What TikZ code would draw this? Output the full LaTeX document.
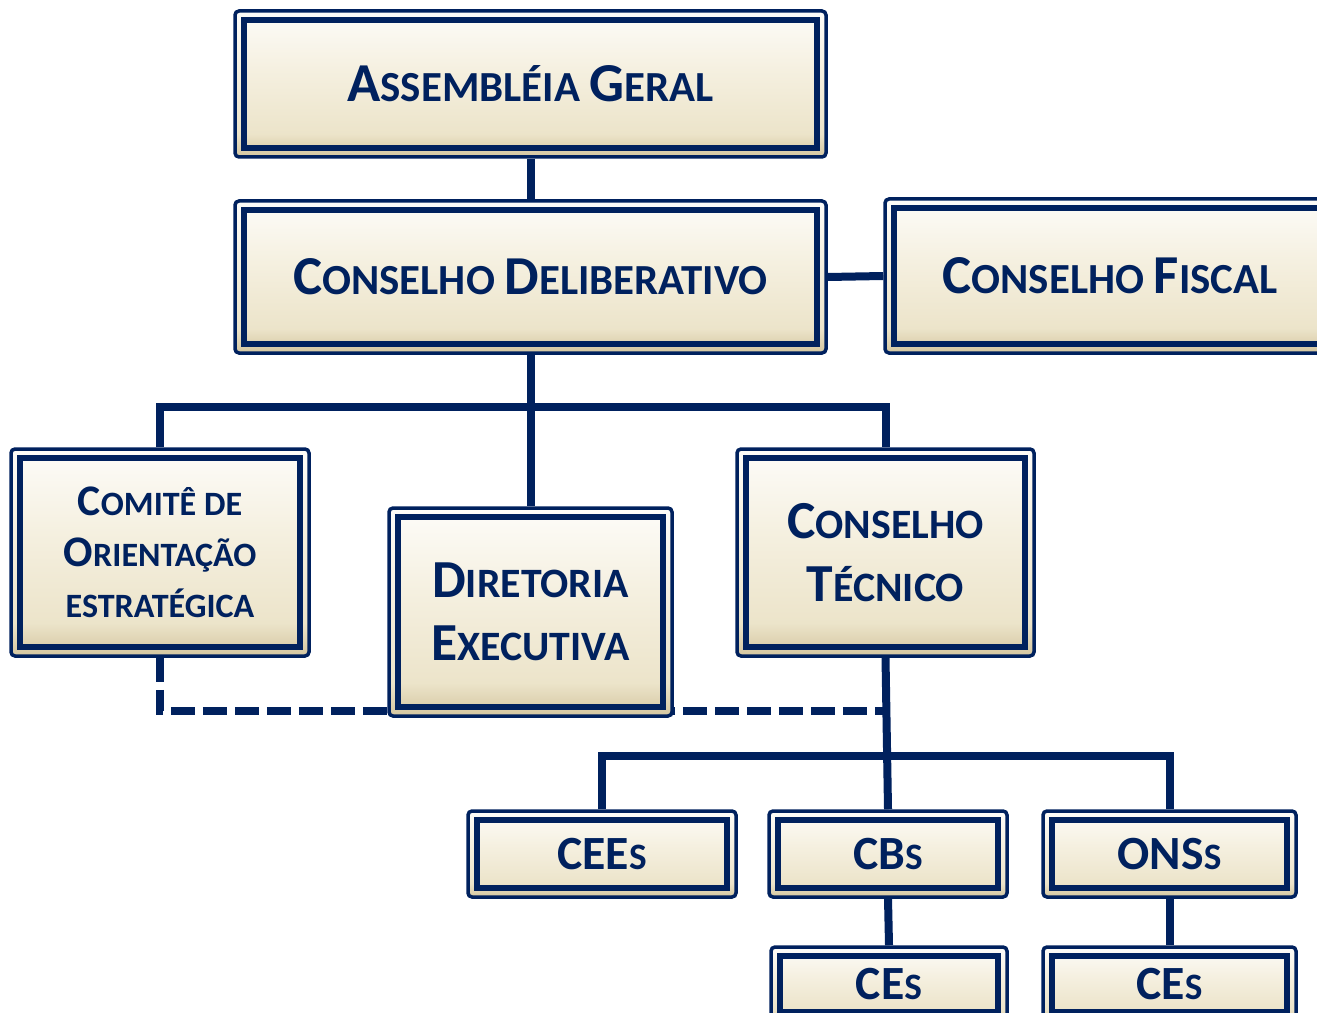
\documentclass[tikz,border=0pt]{standalone}
\usepackage{fontspec}
\setmainfont{Carlito}
\usepackage{graphicx}
\usepackage{tikz}
\usetikzlibrary{positioning,backgrounds}

\definecolor{navy}{RGB}{0,33,94}
\definecolor{boxtop}{RGB}{253,252,249}
\definecolor{boxlight}{RGB}{245,240,224}
\definecolor{boxmid}{RGB}{236,228,202}
\definecolor{boxbot}{RGB}{212,198,160}
\pgfdeclareverticalshading{boxshade}{100bp}{color(0bp)=(boxbot); color(25bp)=(boxbot);
  color(33bp)=(boxmid); color(55bp)=(boxlight); color(75bp)=(boxtop); color(100bp)=(boxtop)}
\newcommand\pxu{0.02cm}
% small caps by hand: capitals drawn larger than the rest
\newcommand\capl[1]{\scalebox{1.28}{#1}}

\begin{document}
\begin{tikzpicture}[x=0.02cm,y=-0.02cm,
  org box/.style={rectangle,rounded corners=4*\pxu,draw=navy,line width=3.5*\pxu,
    shading=boxshade,text=navy,align=center,inner sep=0pt,
    path picture={\draw[navy,line width=5.5*\pxu,sharp corners]
      ([shift={(9*\pxu,9*\pxu)}]path picture bounding box.south west) rectangle
      ([shift={(-9*\pxu,-9*\pxu)}]path picture bounding box.north east);}},
  big box/.style={org box,font=\bfseries\fontsize{24.4}{30}\selectfont},
  mid box/.style={org box,font=\bfseries\fontsize{23.8}{36}\selectfont},
  small box/.style={org box,minimum height=86*\pxu,font=\bfseries\fontsize{21.2}{26}\selectfont},
  link/.style={draw=navy,line width=8*\pxu},
  dash link/.style={link,dash pattern=on 24*\pxu off 8*\pxu}]

  \useasboundingbox (0,0) rectangle (1317,1013);

  \node[big box,minimum width=591*\pxu,minimum height=146*\pxu] (ag) at (530.5,84)
    {\capl{A}SSEMBLÉIA \capl{G}ERAL};
  \node[big box,minimum width=591*\pxu,minimum height=152*\pxu] (cd) at (530.5,277)
    {\capl{C}ONSELHO \capl{D}ELIBERATIVO};
  \node[big box,minimum width=450*\pxu,minimum height=154*\pxu] (cf) at (1110,276)
    {\capl{C}ONSELHO \capl{F}ISCAL};

  \node[org box,minimum width=298*\pxu,minimum height=207*\pxu,
    font=\bfseries\fontsize{19.4}{29}\selectfont] (com) at (160,552.5)
    {\capl{C}OMITÊ DE\\\capl{O}RIENTAÇÃO\\ESTRATÉGICA};
  \node[mid box,minimum width=283*\pxu,minimum height=208*\pxu] (dir) at (530.5,612)
    {\capl{D}IRETORIA\\\capl{E}XECUTIVA};
  \node[mid box,minimum width=297*\pxu,minimum height=207*\pxu] (ct) at (885.5,552.5)
    {\capl{C}ONSELHO\\\capl{T}ÉCNICO};

  \node[small box,minimum width=268*\pxu] (cees) at (602,854) {\capl{CEE}S};
  \node[small box,minimum width=238*\pxu] (cbs) at (888,854) {\capl{CB}S};
  \node[small box,minimum width=253*\pxu] (onss) at (1169.5,854) {\capl{ONS}S};
  \node[small box,minimum width=236*\pxu,minimum height=74*\pxu] (ces1) at (889,984) {\capl{CE}S};
  \node[small box,minimum width=253*\pxu,minimum height=74*\pxu] (ces2) at (1169.5,984) {\capl{CE}S};

  \coordinate (bar1) at (530.5,407);
  \coordinate (dashbar) at (530.5,711);
  \coordinate (bar2) at (888,756);

  \begin{scope}[on background layer]
    \path[link] (ag.south) -- (cd.north);
    \path[link] (cd.east) -- (cf.west);
    \path[link] (cd.south) -- (dir.north);
    \path[link] (com.north) |- (bar1) -| (ct.north);
    \path[dash link] (com.south) |- (ct.south |- dashbar);
    \path[link] (ct.south) -- (cbs.north);
    \path[link] (cees.north) |- (bar2) -| (onss.north);
    \path[link] (cbs.south) -- (ces1.north);
    \path[link] (onss.south) -- (ces2.north);
  \end{scope}
\end{tikzpicture}
\end{document}
